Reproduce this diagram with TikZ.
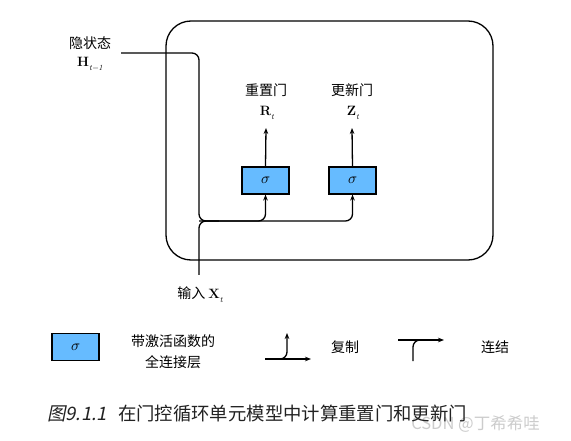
\documentclass[tikz,border=0pt]{standalone}
\usepackage{fontspec}
\newfontfamily\cjk{Noto Sans CJK SC}
\newfontfamily\cjkit[FakeSlant=0.2]{Noto Sans CJK SC}
\newfontfamily\lmmath{Latin Modern Math}
\newcommand\vsub[2]{{\rmfamily\textbf{#1}\raisebox{-0.3em}{\fontsize{8}{8}\selectfont\itshape #2}}}
\newcommand\sig{{\lmmath 𝜎}}
\usetikzlibrary{arrows.meta,calc}
\definecolor{gateblue}{RGB}{102,187,255}
\definecolor{capgray}{RGB}{34,34,34}
\begin{document}
\begin{tikzpicture}[x=1pt,y=-1pt,
  wire/.style={line width=1.3pt, rounded corners=7pt},
  arr/.style={-{Stealth[length=6pt,width=4.6pt]}},
  gatebox/.style={draw, line width=1.1pt, fill=gateblue, minimum width=47pt, minimum height=27pt, inner sep=0pt, font=\fontsize{15}{15}\selectfont},
  lbl/.style={font=\cjk\fontsize{14}{15}\selectfont, inner sep=0pt},
  sym/.style={font=\fontsize{13.5}{13.5}\selectfont, inner sep=0pt}]
\useasboundingbox[fill=white] (0,0) rectangle (571,441);
% cell boundary
\node[draw, line width=1.3pt, rounded corners=25pt, minimum width=327pt, minimum height=239pt] (cell) at (329.5,140.5) {};
% gates
\node[gatebox] (rg) at (265.5,180.5) {\sig};
\node[gatebox] (zg) at (352.5,180.5) {\sig};
% output labels
\node[lbl] (rname) at (266,90) {重置门};
\node[sym] (rt) at (267,113) {\vsub{R}{t}};
\node[lbl] (zname) at (352,90) {更新门};
\node[sym] (zt) at (353,113) {\vsub{Z}{t}};
\coordinate (rout) at (266,128);
\coordinate (zout) at (352,128);
\draw[wire,arr] (rg.north) -- (rout);
\draw[wire,arr] (zg.north) -- (zout);
% hidden state
\node[lbl] (hname) at (90,43) {隐状态};
\node[sym] (ht) at (90,64) {\vsub{H}{t−1}};
\coordinate (h0) at (121,53);
\coordinate (j) at (199,221);
\draw[wire,arr] (h0) -| (j) -| (zg.south);
\draw[wire,arr] (j) -| (rg.south);
% input
\node[lbl] (xname) at (200,295) {输入\ {\fontsize{13.5}{13.5}\selectfont\vsub{X}{t}}};
\coordinate (xin) at (199,275);
\draw[wire] (xin) |- ($(j)+(20,0)$);
% legend
\node[gatebox] (lg) at (75.5,347) {\sig};
\node[lbl, align=center] (ltext) at (173,352) {带激活函数的\\[6pt]全连接层};
\coordinate (c0) at (265,359);
\coordinate (c1) at (311,359);
\coordinate (c2) at (287,333);
\draw[wire,arr] (c0) -- (c1);
\draw[wire,arr] (c0) -| (c2);
\node[lbl] (copy) at (345,347) {复制};
\coordinate (k0) at (398,340);
\coordinate (k1) at (444,340);
\coordinate (k2) at (413,361);
\draw[wire,arr] (k0) -- (k1);
\draw[wire] (k2) |- ($(k0)+(25,0)$);
\node[lbl] (concat) at (495,347) {连结};
% watermark
\node[font=\cjk\fontsize{16.5}{16.5}\selectfont, text=black!20, anchor=east, inner sep=0pt] (wm) at (540,424) {CSDN @丁希希哇};
% caption
\node[font=\cjkit\fontsize{18.5}{18.5}\selectfont, text=capgray, anchor=base west, inner sep=0pt] (capnum) at (47,420) {图9.1.1};
\node[font=\cjk\fontsize{18.35}{18.35}\selectfont, text=capgray, anchor=base west, inner sep=0pt] (cap) at (118,420) {在门控循环单元模型中计算重置门和更新门};
\end{tikzpicture}
\end{document}
